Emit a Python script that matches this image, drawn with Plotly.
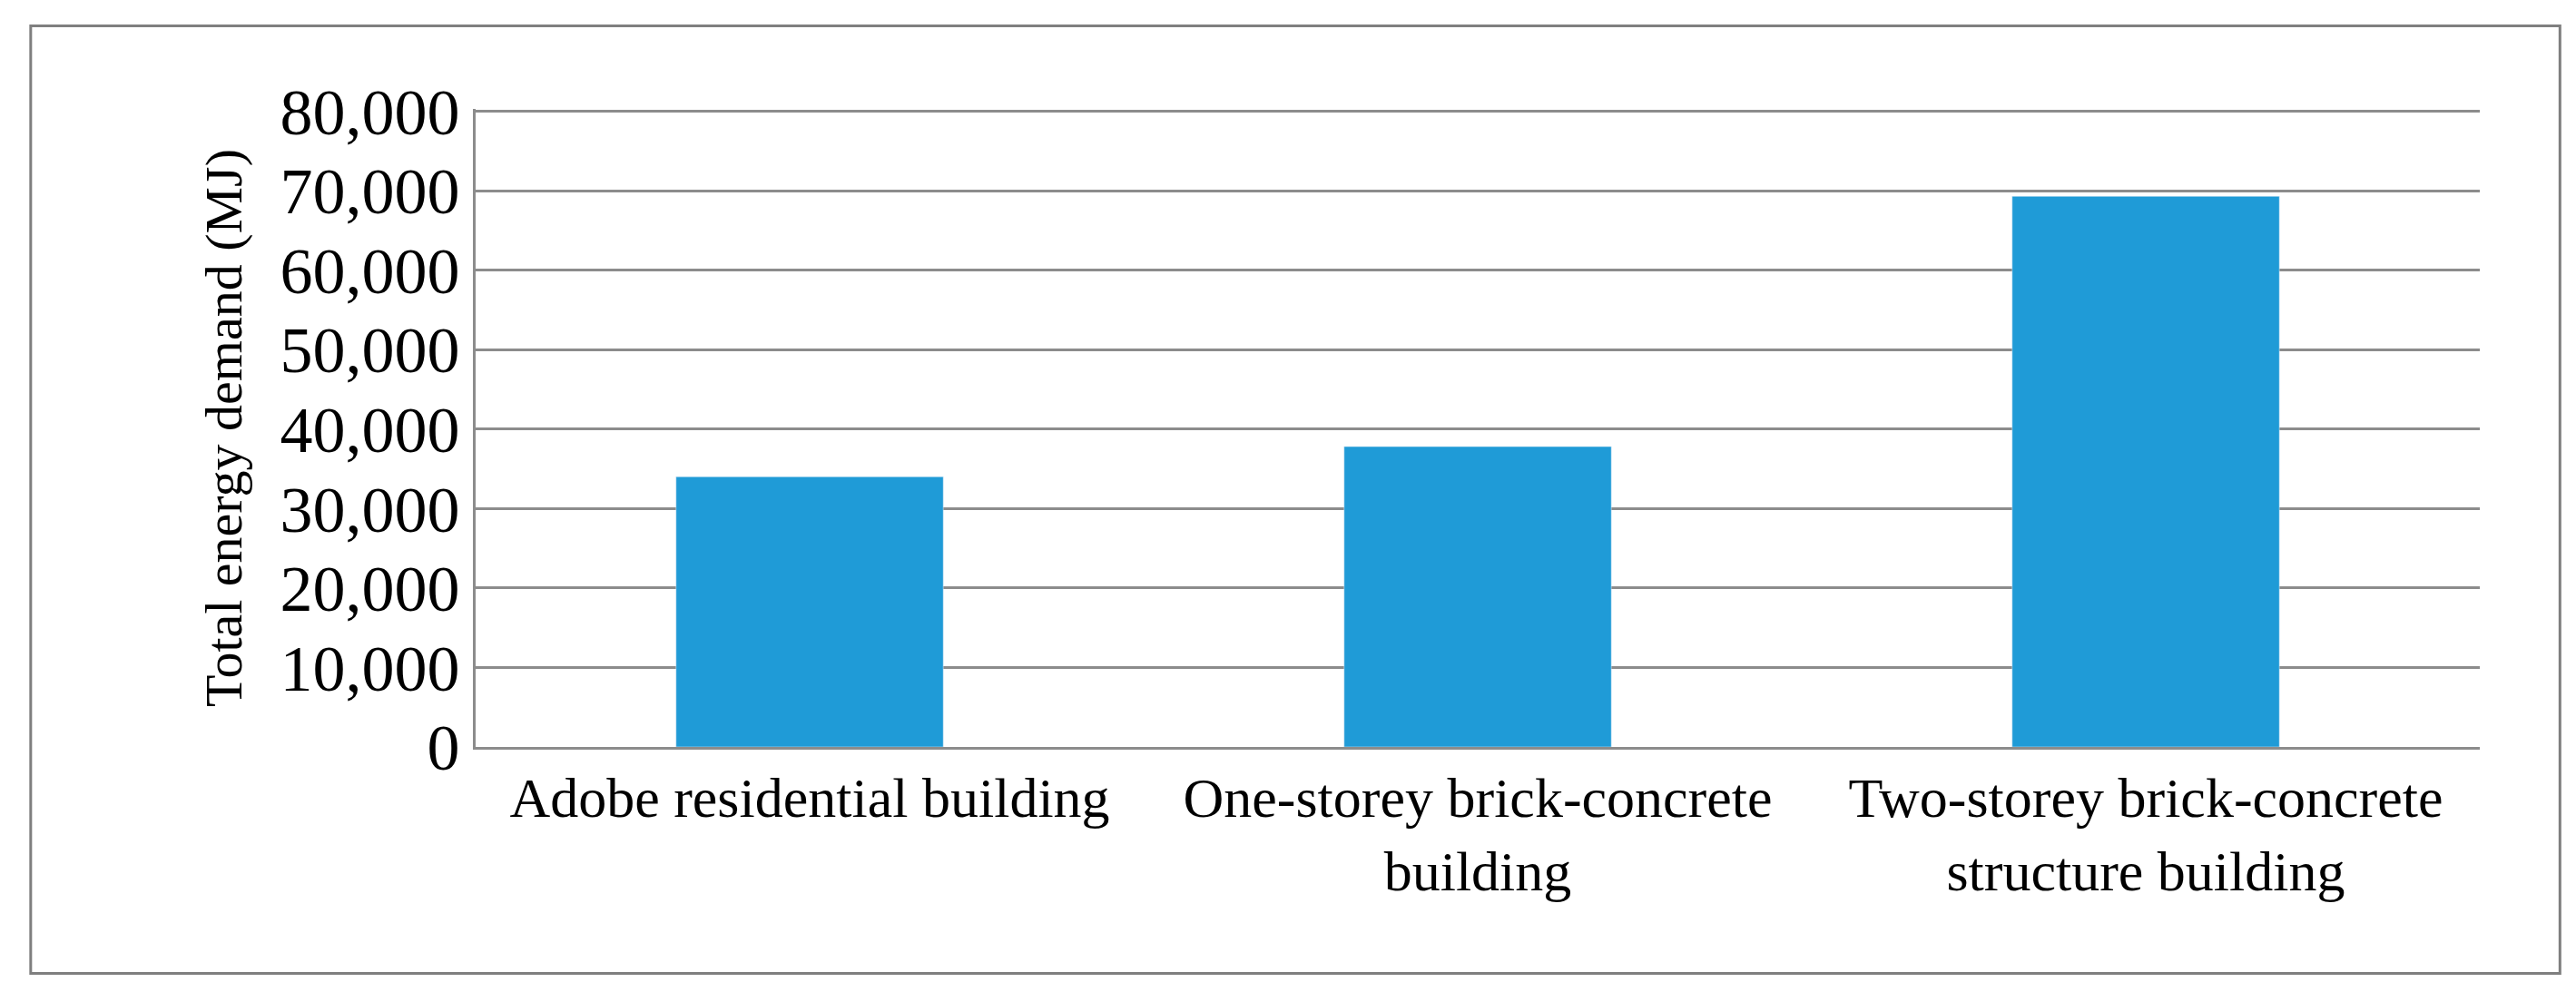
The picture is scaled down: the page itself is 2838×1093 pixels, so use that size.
import plotly.graph_objects as go

categories = ["Adobe residential building",
              "One-storey brick-concrete<br>building",
              "Two-storey brick-concrete<br>structure building"]
energy_mj = [34000, 37800, 69300]
tick_vals = [0, 10000, 20000, 30000, 40000, 50000, 60000, 70000, 80000]

fig = go.Figure()
fig.add_trace(go.Bar(x=categories, y=energy_mj, marker_color="#1F9BD7", width=0.4))

fig.update_layout(
    width=2838, height=1093,
    margin=dict(l=516, r=114, t=112, b=278),
    paper_bgcolor="white", plot_bgcolor="white",
    font=dict(family="Liberation Serif", color="black"),
    showlegend=False,
    shapes=[dict(type="rect", xref="paper", yref="paper",
                 x0=-0.222, x1=1.04, y0=-0.355, y1=1.13,
                 line=dict(color="#7f7f7f", width=3))],
)
fig.update_xaxes(tickfont=dict(size=62), showline=True, linecolor="#8c8c8c",
                 linewidth=3, ticks="outside", ticklen=0)
fig.update_yaxes(range=[0, 80300], tickvals=tick_vals, tickformat=",",
                 tickfont=dict(size=72), showgrid=True, gridcolor="#8c8c8c",
                 gridwidth=3, showline=True, linecolor="#8c8c8c", linewidth=3,
                 title=dict(text="Total energy demand (MJ)", font=dict(size=58), standoff=24))

fig.write_html("out.html")
